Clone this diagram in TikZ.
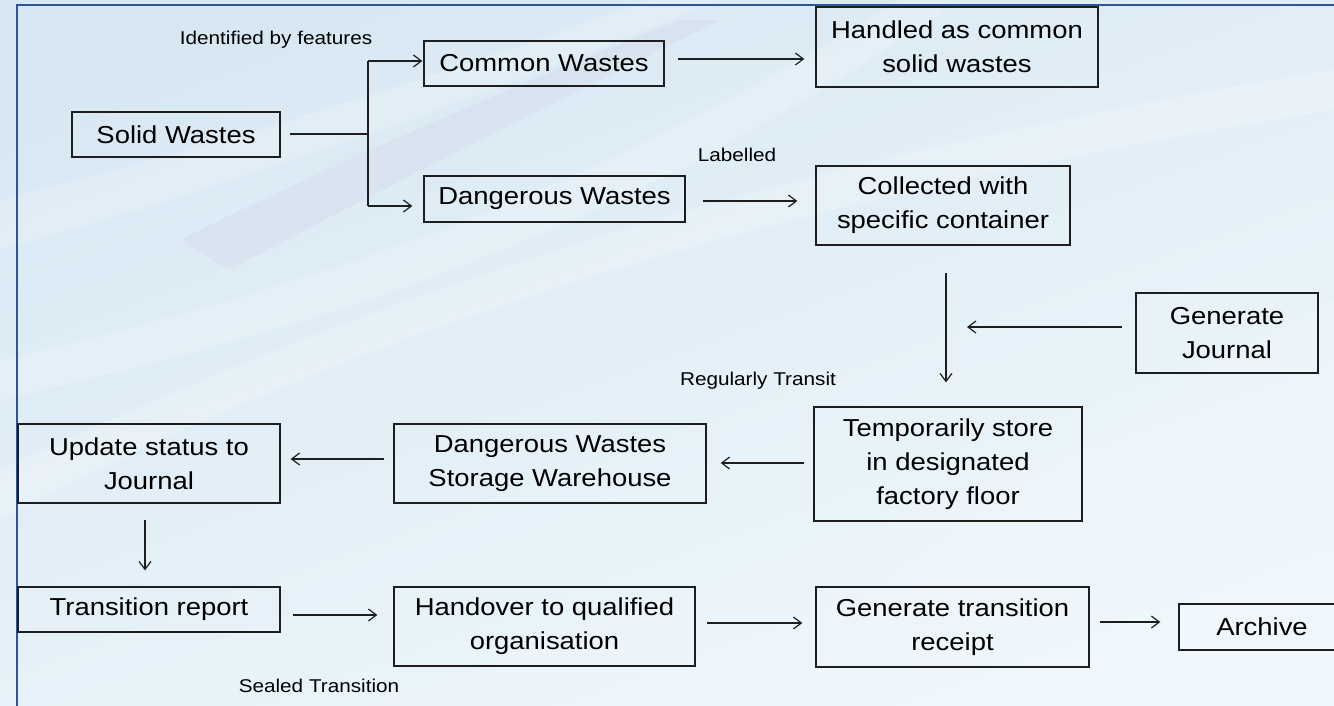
\documentclass[tikz,border=0pt]{standalone}
\usepackage{fontspec}
\setmainfont[FakeStretch=1.12]{Liberation Sans}
\usetikzlibrary{arrows.meta,calc}
\definecolor{framec}{HTML}{2F5597}
\definecolor{bgdark}{HTML}{D8E8F3}
\definecolor{bglight}{HTML}{EFF7FC}
\definecolor{pinkish}{HTML}{C9B4D2}
\definecolor{linec}{HTML}{1E1E1E}
\begin{document}
\begin{tikzpicture}[x=1pt,y=-1pt,
  box/.style={draw=linec, line width=1.3pt, inner sep=0pt, align=center,
    font=\fontsize{24.5}{34}\selectfont, text=black},
  lbl/.style={inner sep=0pt, font=\fontsize{18.5}{22}\selectfont, text=black},
  ln/.style={line width=1.2pt, draw=linec},
  arr/.style={line width=1.2pt, draw=linec,
    -{Straight Barb[length=8pt,width=12pt,line width=1.2pt]}}]
\useasboundingbox (0,0) rectangle (1334,705);
% background
\shade[top color=bgdark, bottom color=bglight, shading angle=20] (0,0) rectangle (1334,705);
\fill[bglight, opacity=0.4] (700,705) -- (1334,705) -- (1334,300) .. controls (1100,420) and (900,560) .. (700,705) -- cycle;
\fill[white, opacity=0.22] (0,470) .. controls (300,330) and (700,170) .. (1334,70) -- (1334,110) .. controls (700,210) and (300,360) .. (0,520) -- cycle;
\fill[white, opacity=0.2] (0,200) .. controls (200,150) and (400,90) .. (650,0) -- (720,0) .. controls (450,110) and (250,180) .. (0,250) -- cycle;
\fill[pinkish, opacity=0.12] (180,240) .. controls (320,170) and (480,100) .. (680,20) -- (720,20) .. controls (520,120) and (360,200) .. (230,270) -- cycle;
\fill[white, opacity=0.2] (0,360) .. controls (250,300) and (550,220) .. (900,0) -- (960,0) .. controls (600,250) and (300,330) .. (0,400) -- cycle;
% frame
\draw[framec, line width=2.5pt] (17,720) -- (17,5) -- (1350,5);

% nodes
\node[box, minimum width=208, minimum height=45] (solid) at (176,134.5) {Solid Wastes};
\node[box, minimum width=240, minimum height=45] (common) at (544,63.5) {Common Wastes};
\node[box, minimum width=282, minimum height=80] (handled) at (957,47) {Handled as common\\solid wastes};
\node[box, minimum width=261, minimum height=46] (dangerous) at (554.5,199) {Dangerous Wastes};
\node[box, minimum width=254, minimum height=79] (collected) at (943,205.5) {Collected with\\specific container};
\node[box, minimum width=182, minimum height=80] (genjournal) at (1227,333) {Generate\\Journal};
\node[box, minimum width=268, minimum height=114] (temp) at (948,464) {Temporarily store\\in designated\\factory floor};
\node[box, minimum width=312, minimum height=79] (dwsw) at (550,463.5) {Dangerous Wastes\\Storage Warehouse};
\node[box, minimum width=262, minimum height=79] (update) at (149,463.5) {Update status to\\Journal};
\node[box, minimum width=262, minimum height=45] (transition) at (149,609.5) {Transition report};
\node[box, minimum width=301, minimum height=79] (handover) at (544.5,626.5) {Handover to qualified\\organisation};
\node[box, minimum width=273, minimum height=80] (genreceipt) at (952.5,627) {Generate transition\\receipt};
\node[box, minimum width=166, minimum height=46] (archive) at (1262,627) {Archive};

% labels
\node[lbl] (lidf) at (276,40) {Identified by features};
\node[lbl] (llab) at (737,155) {Labelled};
\node[lbl] (lreg) at (758,381) {Regularly Transit};
\node[lbl] (lseal) at (319,686) {Sealed Transition};

% connectors
\coordinate (splitMid) at (368,134);
\coordinate (splitTop) at (368,61);
\coordinate (splitBot) at (368,206);
\coordinate (jin) at (967,327);
\draw[ln] ($(solid.east)+(9,-0.5)$) -- (splitMid);
\draw[ln] (splitTop) -- (splitBot);
\draw[arr] (splitTop) -- ($(common.west |- splitTop)+(-1,0)$);
\draw[arr] (splitBot) -- ($(dangerous.west |- splitBot)+(-11,0)$);
\draw[arr] ($(common.east)+(13,-4.5)$) -- ($(handled.west |- common.east)+(-11,-4.5)$);
\draw[arr] ($(dangerous.east)+(17,2)$) -- ($(collected.west |- dangerous.east)+(-18,2)$);
\draw[arr] ($(collected.south)+(3,27)$) -- ($(temp.north -| collected.south)+(3,-24)$);
\draw[arr] ($(genjournal.west)+(-13,-6)$) -- (jin);
\draw[arr] ($(temp.west)+(-9,-1)$) -- ($(dwsw.east |- temp.west)+(14,-1)$);
\draw[arr] ($(dwsw.west)+(-9,-4.5)$) -- ($(update.east |- dwsw.west)+(10,-4.5)$);
\draw[arr] ($(update.south)+(-4,16)$) -- ($(transition.north)+(-4,-16)$);
\draw[arr] ($(transition.east)+(12,5.5)$) -- ($(handover.west |- transition.east)+(-16,5.5)$);
\draw[arr] ($(handover.east)+(11,-3.5)$) -- ($(genreceipt.west |- handover.east)+(-13,-3.5)$);
\draw[arr] ($(genreceipt.east)+(10,-5)$) -- ($(archive.west |- genreceipt.east)+(-18,-5)$);
\end{tikzpicture}
\end{document}
